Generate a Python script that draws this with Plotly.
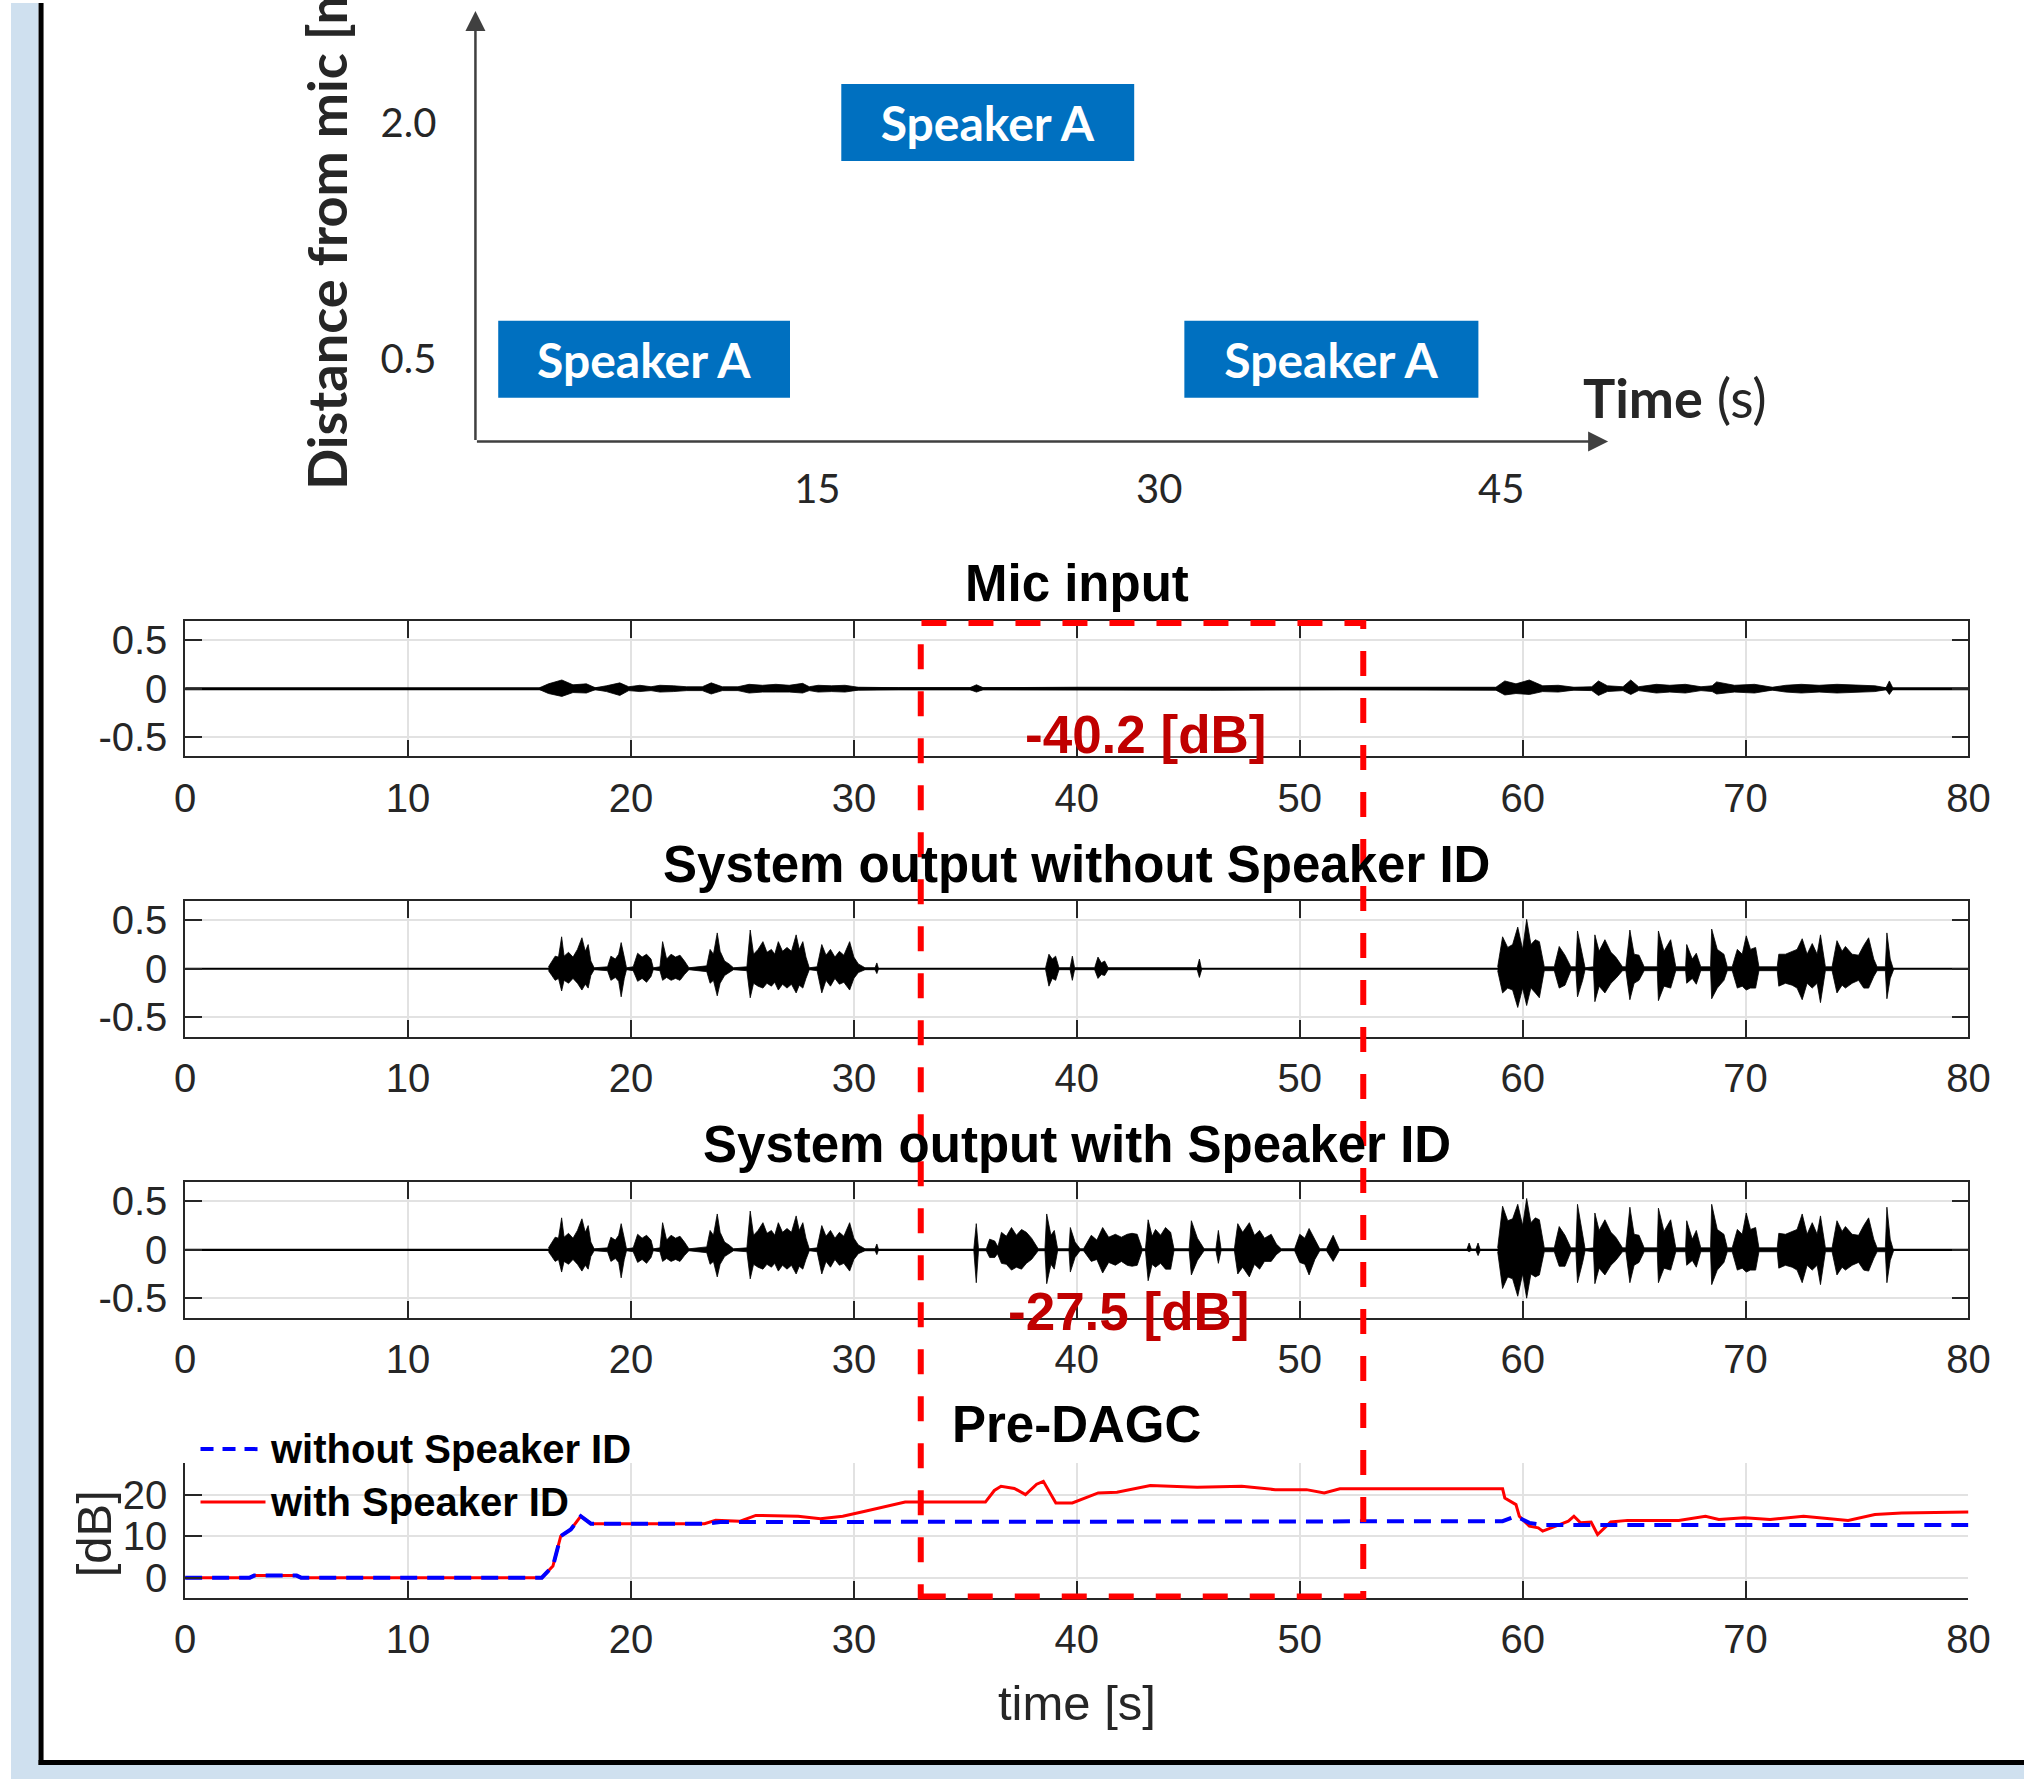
import plotly.graph_objects as go

# ---------------- data ----------------
# top diagram: speaker position vs time
box_start = [1.0, 16.05, 31.1]
box_end = [13.8, 28.9, 44.0]
box_dist = [0.5, 2.0, 0.5]
box_labels = ["Speaker A", "Speaker A", "Speaker A"]
top_xticks = [15, 30, 45]
top_xticktext = ["15", "30", "45"]
top_yticks = [0.5, 2.0]
top_yticktext = ["0.5", "2.0"]

# time axis of the lower panels
time_ticks = [0, 10, 20, 30, 40, 50, 60, 70, 80]
amp_ticks = [-0.5, 0, 0.5]
amp_ticktext = ["-0.5", "0", "0.5"]
db_ticks = [0, 10, 20]

# Mic input envelope (upper / lower magnitude)
mic_t = [15.9, 16.3, 16.9, 17.4, 18.0, 18.4, 18.9, 19.5, 19.9, 20.4, 20.9, 21.3, 21.9, 22.5, 23.2, 23.6,
         24.1, 24.8, 25.3, 25.9, 26.5, 27.1, 27.7, 28.0, 28.4, 29.0, 29.6, 30.2, 32.0, 35.2, 35.5, 35.8,
         40.0, 46.0, 52.0, 58.8, 59.2, 59.7, 60.3, 60.9, 61.6, 62.3, 63.1, 63.4, 63.8, 64.5, 64.85, 65.2,
         66.0, 66.6, 67.3, 68.0, 68.5, 68.7, 69.5, 70.4, 71.2, 71.8, 72.5, 73.3, 74.1, 74.9, 75.8, 76.3,
         76.45, 76.6]
mic_up = [0.01, 0.05, 0.09, 0.04, 0.05, 0.01, 0.03, 0.06, 0.02, 0.035, 0.02, 0.035, 0.03, 0.02, 0.02, 0.06,
          0.02, 0.02, 0.045, 0.035, 0.045, 0.035, 0.055, 0.02, 0.035, 0.03, 0.035, 0.015, 0.01, 0.01, 0.04, 0.01,
          0.015, 0.015, 0.01, 0.015, 0.08, 0.05, 0.09, 0.03, 0.035, 0.015, 0.02, 0.08, 0.03, 0.02, 0.09, 0.02,
          0.045, 0.035, 0.045, 0.02, 0.03, 0.07, 0.035, 0.045, 0.015, 0.035, 0.045, 0.035, 0.045, 0.035, 0.03,
          0.01, 0.08, 0.01]
mic_dn = [0.01, 0.05, 0.08, 0.04, 0.045, 0.01, 0.03, 0.07, 0.02, 0.03, 0.02, 0.035, 0.03, 0.02, 0.02, 0.055,
          0.02, 0.02, 0.045, 0.035, 0.035, 0.035, 0.045, 0.02, 0.035, 0.03, 0.035, 0.015, 0.01, 0.01, 0.035, 0.01,
          0.015, 0.015, 0.01, 0.015, 0.065, 0.05, 0.06, 0.03, 0.035, 0.015, 0.02, 0.07, 0.03, 0.02, 0.06, 0.02,
          0.045, 0.035, 0.045, 0.02, 0.03, 0.055, 0.035, 0.045, 0.015, 0.035, 0.045, 0.035, 0.045, 0.035, 0.03,
          0.01, 0.06, 0.01]

# first talk segment (same in both system outputs)
early_t = [16.30, 16.45, 16.60, 16.75, 16.89, 17.00, 17.20, 17.40, 17.60, 17.80, 17.95, 18.08, 18.20, 18.35,
           18.95, 19.10, 19.30, 19.45, 19.56, 19.70, 19.80,
           20.10, 20.30, 20.50, 20.70, 20.90, 21.00,
           21.30, 21.42, 21.60, 21.80, 22.00, 22.20, 22.40, 22.60,
           23.40, 23.55, 23.70, 23.87, 24.00, 24.20, 24.40, 24.60,
           25.20, 25.35, 25.50, 25.70, 25.92, 26.10, 26.30, 26.45, 26.61, 26.80, 27.00, 27.20, 27.41, 27.55,
           27.71, 27.85, 28.00,
           28.35, 28.56, 28.75, 28.95, 29.15, 29.35, 29.55, 29.81, 30.00, 30.20, 30.50,
           30.95, 31.03, 31.10]
early_up = [0.02, 0.08, 0.13, 0.12, 0.33, 0.13, 0.17, 0.12, 0.20, 0.32, 0.18, 0.25, 0.08, 0.01,
            0.02, 0.13, 0.10, 0.15, 0.27, 0.12, 0.01,
            0.02, 0.16, 0.12, 0.15, 0.10, 0.01,
            0.02, 0.28, 0.10, 0.15, 0.12, 0.14, 0.08, 0.01,
            0.03, 0.20, 0.15, 0.37, 0.18, 0.08, 0.05, 0.01,
            0.02, 0.40, 0.15, 0.20, 0.28, 0.17, 0.20, 0.15, 0.28, 0.18, 0.22, 0.18, 0.35, 0.20,
            0.28, 0.12, 0.01,
            0.02, 0.25, 0.14, 0.20, 0.12, 0.18, 0.14, 0.28, 0.12, 0.05, 0.01,
            0.01, 0.06, 0.005]
early_dn = [0.02, 0.07, 0.12, 0.10, 0.23, 0.12, 0.15, 0.10, 0.15, 0.22, 0.16, 0.20, 0.07, 0.01,
            0.02, 0.12, 0.09, 0.13, 0.29, 0.10, 0.01,
            0.02, 0.13, 0.10, 0.14, 0.08, 0.01,
            0.02, 0.12, 0.09, 0.12, 0.10, 0.12, 0.06, 0.01,
            0.03, 0.15, 0.12, 0.28, 0.15, 0.07, 0.04, 0.01,
            0.02, 0.30, 0.15, 0.18, 0.20, 0.15, 0.18, 0.14, 0.22, 0.16, 0.20, 0.16, 0.25, 0.17,
            0.20, 0.10, 0.01,
            0.02, 0.25, 0.12, 0.18, 0.10, 0.16, 0.14, 0.22, 0.10, 0.04, 0.01,
            0.01, 0.05, 0.005]

# system output without speaker ID, middle (far) segment
nosid_mid_t = [38.60, 38.75, 38.90, 39.05, 39.20, 39.70, 39.80, 39.90, 40.80, 40.95, 41.10, 41.25, 41.40,
               45.40, 45.50, 45.60]
nosid_mid_up = [0.01, 0.15, 0.10, 0.13, 0.01, 0.01, 0.13, 0.01, 0.01, 0.12, 0.06, 0.08, 0.01, 0.01, 0.10, 0.01]
nosid_mid_dn = [0.01, 0.18, 0.10, 0.12, 0.01, 0.01, 0.12, 0.01, 0.01, 0.10, 0.06, 0.07, 0.01, 0.01, 0.09, 0.01]

# last talk segment timings
late_t = [58.88, 59.10, 59.33, 59.55, 59.78, 60.00, 60.18, 60.37, 60.57, 60.75, 60.97,
          61.42, 61.64, 61.90, 62.16,
          62.39, 62.46, 62.69, 62.80,
          63.18, 63.24, 63.43, 63.69, 63.96, 64.18, 64.48,
          64.63, 64.81, 65.00, 65.22, 65.45,
          66.04, 66.09, 66.34, 66.64, 66.87,
          67.31, 67.36, 67.61, 67.79, 67.99,
          68.43, 68.48, 68.73, 69.03, 69.18,
          69.40, 69.63, 69.85, 70.03, 70.22, 70.45, 70.60,
          71.42, 71.49, 71.79, 72.09, 72.31, 72.54, 72.76, 72.99, 73.21, 73.36, 73.58,
          73.88, 74.10, 74.33, 74.48, 74.78, 75.07, 75.30, 75.52, 75.75, 75.90,
          76.27, 76.34, 76.49, 76.64]
nosid_late_up = [0.02, 0.33, 0.22, 0.25, 0.43, 0.20, 0.51, 0.25, 0.30, 0.28, 0.02,
                 0.02, 0.23, 0.14, 0.02,
                 0.02, 0.39, 0.15, 0.01,
                 0.02, 0.35, 0.18, 0.30, 0.17, 0.12, 0.02,
                 0.02, 0.40, 0.15, 0.14, 0.02,
                 0.02, 0.39, 0.18, 0.30, 0.02,
                 0.02, 0.25, 0.10, 0.16, 0.02,
                 0.02, 0.41, 0.20, 0.15, 0.02,
                 0.02, 0.20, 0.15, 0.34, 0.20, 0.22, 0.02,
                 0.02, 0.15, 0.15, 0.18, 0.20, 0.31, 0.15, 0.26, 0.15, 0.35, 0.02,
                 0.02, 0.29, 0.18, 0.23, 0.15, 0.14, 0.24, 0.32, 0.10, 0.02,
                 0.02, 0.37, 0.10, 0.01]
nosid_late_dn = [0.02, 0.25, 0.20, 0.22, 0.40, 0.20, 0.38, 0.20, 0.25, 0.30, 0.02,
                 0.02, 0.20, 0.17, 0.02,
                 0.02, 0.29, 0.12, 0.01,
                 0.02, 0.34, 0.18, 0.25, 0.15, 0.10, 0.02,
                 0.02, 0.32, 0.15, 0.12, 0.02,
                 0.02, 0.33, 0.18, 0.20, 0.02,
                 0.02, 0.15, 0.10, 0.16, 0.02,
                 0.02, 0.31, 0.20, 0.12, 0.02,
                 0.02, 0.20, 0.18, 0.22, 0.20, 0.20, 0.02,
                 0.02, 0.18, 0.15, 0.17, 0.20, 0.32, 0.15, 0.20, 0.15, 0.35, 0.02,
                 0.02, 0.25, 0.17, 0.20, 0.15, 0.12, 0.20, 0.20, 0.08, 0.02,
                 0.02, 0.31, 0.10, 0.01]

# system output with speaker ID, middle (far) segment
sid_mid_t = [35.38, 35.49, 35.59,
             35.94, 36.09, 36.32, 36.44,
             36.47, 36.62, 36.84, 37.07, 37.29, 37.52, 37.74, 37.97, 38.27,
             38.57, 38.65, 38.84, 38.99, 39.14,
             39.65, 39.71, 39.92, 40.15,
             40.30, 40.65, 40.90, 41.16, 41.43, 41.73, 42.00, 42.26, 42.48, 42.71, 42.93,
             43.08, 43.20, 43.38, 43.53, 43.76, 43.98, 44.21, 44.36,
             45.04, 45.14, 45.41, 45.71,
             46.24, 46.35, 46.47,
             47.07, 47.22, 47.44, 47.74, 47.97, 48.20, 48.42, 48.72, 48.95, 49.17,
             49.77, 50.00, 50.23, 50.42, 50.68, 50.90,
             51.20, 51.50, 51.77]
sid_mid_up = [0.01, 0.27, 0.01,
              0.01, 0.11, 0.09, 0.04,
              0.04, 0.18, 0.14, 0.23, 0.15, 0.21, 0.18, 0.12, 0.01,
              0.01, 0.37, 0.15, 0.20, 0.01,
              0.01, 0.23, 0.08, 0.01,
              0.01, 0.15, 0.10, 0.23, 0.13, 0.16, 0.13, 0.16, 0.17, 0.16, 0.01,
              0.01, 0.31, 0.14, 0.21, 0.15, 0.23, 0.18, 0.01,
              0.01, 0.30, 0.12, 0.01,
              0.01, 0.20, 0.01,
              0.01, 0.27, 0.18, 0.28, 0.15, 0.20, 0.12, 0.16, 0.06, 0.01,
              0.01, 0.16, 0.12, 0.22, 0.10, 0.01,
              0.01, 0.15, 0.01]
sid_mid_dn = [0.01, 0.34, 0.01,
              0.01, 0.08, 0.08, 0.04,
              0.04, 0.14, 0.15, 0.21, 0.18, 0.20, 0.14, 0.10, 0.01,
              0.01, 0.35, 0.15, 0.20, 0.01,
              0.01, 0.23, 0.08, 0.01,
              0.01, 0.12, 0.10, 0.24, 0.13, 0.16, 0.12, 0.16, 0.17, 0.16, 0.01,
              0.01, 0.32, 0.15, 0.18, 0.14, 0.20, 0.20, 0.01,
              0.01, 0.26, 0.11, 0.01,
              0.01, 0.14, 0.01,
              0.01, 0.25, 0.18, 0.28, 0.15, 0.20, 0.12, 0.12, 0.05, 0.01,
              0.01, 0.13, 0.15, 0.26, 0.10, 0.01,
              0.01, 0.12, 0.01]
sid_blip_t = [57.50, 57.60, 57.70, 57.90, 58.00, 58.10]
sid_blip_up = [0.005, 0.07, 0.005, 0.005, 0.07, 0.005]
sid_blip_dn = [0.005, 0.02, 0.005, 0.005, 0.06, 0.005]
sid_late_up = [0.02, 0.45, 0.30, 0.32, 0.47, 0.25, 0.53, 0.28, 0.33, 0.31, 0.02,
               0.02, 0.24, 0.15, 0.02,
               0.02, 0.47, 0.16, 0.01,
               0.02, 0.38, 0.20, 0.31, 0.18, 0.13, 0.02,
               0.02, 0.44, 0.16, 0.15, 0.02,
               0.02, 0.43, 0.19, 0.31, 0.02,
               0.02, 0.30, 0.11, 0.20, 0.02,
               0.02, 0.47, 0.21, 0.16, 0.02,
               0.02, 0.21, 0.16, 0.38, 0.21, 0.23, 0.02,
               0.02, 0.17, 0.16, 0.19, 0.21, 0.37, 0.16, 0.28, 0.16, 0.35, 0.02,
               0.02, 0.30, 0.19, 0.24, 0.16, 0.15, 0.25, 0.33, 0.11, 0.02,
               0.02, 0.44, 0.11, 0.01]
sid_late_dn = [0.02, 0.40, 0.28, 0.30, 0.48, 0.25, 0.50, 0.25, 0.28, 0.26, 0.02,
               0.02, 0.17, 0.17, 0.02,
               0.02, 0.34, 0.13, 0.01,
               0.02, 0.35, 0.19, 0.26, 0.16, 0.11, 0.02,
               0.02, 0.34, 0.16, 0.13, 0.02,
               0.02, 0.34, 0.19, 0.21, 0.02,
               0.02, 0.16, 0.11, 0.18, 0.02,
               0.02, 0.36, 0.21, 0.13, 0.02,
               0.02, 0.21, 0.19, 0.23, 0.21, 0.21, 0.02,
               0.02, 0.19, 0.16, 0.18, 0.21, 0.34, 0.16, 0.21, 0.16, 0.36, 0.02,
               0.02, 0.26, 0.18, 0.21, 0.16, 0.13, 0.21, 0.22, 0.09, 0.02,
               0.02, 0.34, 0.11, 0.01]

# Pre-DAGC gain [dB]
sid_gain_t = [0, 2.9, 3.1, 5.0, 5.2, 16.0, 16.5, 16.85, 17.3, 17.75, 18.2, 23.3, 23.8, 24.9, 25.6, 27.5,
              28.5, 29.5, 30.5, 31.5, 32.3, 35.9, 36.3, 36.6, 37.2, 37.7, 38.2, 38.5, 39.06, 39.8, 40.96,
              41.8, 43.3, 45.4, 47.4, 48.9, 50.3, 51.1, 51.8, 59.1, 59.2, 59.7, 59.85, 60.3, 60.7, 60.9,
              61.5, 62.05, 62.3, 62.6, 63.07, 63.36, 63.95, 64.7, 67.0, 68.2, 68.8, 69.95, 71.1, 72.6,
              74.6, 75.8, 77.0, 80.0]
sid_gain_db = [0, 0, 0.5, 0.5, 0, 0, 2.8, 10, 11.6, 14.8, 13, 13, 13.8, 13.6, 15, 14.8,
               14.2, 14.8, 16, 17.2, 18.2, 18.2, 21, 22, 21.5, 20, 22.5, 23.2, 18, 18, 20.4,
               20.6, 22.2, 21.8, 22, 21.2, 21.2, 20.4, 21.4, 21.4, 19.2, 17.6, 14.8, 12.4, 12, 11.2,
               12.4, 13.6, 14.8, 13.2, 13.4, 10.4, 13.4, 13.8, 13.8, 14.8, 14.0, 14.4, 14.0, 14.8,
               13.8, 15.2, 15.6, 15.8]
nosid_gain_t = [0, 2.9, 3.1, 5.0, 5.2, 16.0, 16.5, 16.85, 17.3, 17.75, 18.2, 23.3, 24.0, 40.0, 59.1,
                59.7, 60.3, 60.9, 80.0]
nosid_gain_db = [0, 0, 0.5, 0.5, 0, 0, 2.8, 10, 11.6, 14.8, 13, 13, 13.4, 13.6, 13.6,
                 14.8, 13.2, 12.7, 12.7]

# highlighted region and level annotations
region_t = [33.0, 52.85]
level_texts = ["-40.2 [dB]", "-27.5 [dB]"]
level_t = [43.1, 42.3]

# ---------------- helpers ----------------
# the photographed page shows the figure ~10 px in and 0.984x narrower horizontally
SCALE_X, OFF_X, W, H = 0.98419, 10.6, 2050, 1782


def fx(px):
    return (px / SCALE_X - OFF_X) / W


def fy(py):
    return 1 - py / H


def envelope(t, up, dn):
    assert len(t) == len(up) == len(dn), (len(t), len(up), len(dn))
    xs = list(t) + list(reversed(t))
    ys = list(up) + [-v for v in reversed(dn)]
    return xs, ys


ARIAL = "Liberation Sans, Arial, sans-serif"
LATO = "Lato, 'Open Sans', sans-serif"
AX = "#262626"
GRID = "#E2E2E2"

fig = go.Figure()

# ---------------- waveform panels ----------------
panels = [
    (1, [(mic_t, mic_up, mic_dn)], 3.0),
    (2, [(early_t, early_up, early_dn), (nosid_mid_t, nosid_mid_up, nosid_mid_dn),
         (late_t, nosid_late_up, nosid_late_dn)], 2.2),
    (3, [(early_t, early_up, early_dn), (sid_mid_t, sid_mid_up, sid_mid_dn),
         (sid_blip_t, sid_blip_up, sid_blip_dn), (late_t, sid_late_up, sid_late_dn)], 2.2),
]
for idx, segs, bw in panels:
    xa = "x" if idx == 1 else f"x{idx}"
    ya = "y" if idx == 1 else f"y{idx}"
    fig.add_trace(go.Scatter(x=[0, 80], y=[0, 0], mode="lines", line=dict(color="black", width=bw),
                             xaxis=xa, yaxis=ya, showlegend=False, hoverinfo="skip"))
    for t, up, dn in segs:
        xs, ys = envelope(t, up, dn)
        fig.add_trace(go.Scatter(x=xs, y=ys, mode="lines", fill="toself", fillcolor="black",
                                 line=dict(color="black", width=0.8), xaxis=xa, yaxis=ya,
                                 showlegend=False, hoverinfo="skip"))

# ---------------- Pre-DAGC ----------------
fig.add_trace(go.Scatter(x=sid_gain_t, y=sid_gain_db, mode="lines", line=dict(color="#FF0000", width=3),
                         xaxis="x4", yaxis="y4", showlegend=False))
fig.add_trace(go.Scatter(x=nosid_gain_t, y=nosid_gain_db, mode="lines",
                         line=dict(color="#0000FF", width=4, dash="17px,10px"),
                         xaxis="x4", yaxis="y4", showlegend=False))

# ---------------- top diagram boxes ----------------
fig.add_trace(go.Bar(y=box_dist, x=[e - s for s, e in zip(box_start, box_end)], base=box_start,
                     orientation="h", width=0.487, marker=dict(color="#0070C0", line=dict(width=0)),
                     text=box_labels, textposition="inside", insidetextanchor="middle",
                     textfont=dict(family=LATO, size=48, color="white", weight="bold"),
                     textangle=0, constraintext="none", cliponaxis=False,
                     xaxis="x5", yaxis="y5", showlegend=False))

XD = [fx(184.6), fx(1968.5)]
tick_font = dict(family=ARIAL, size=40, color=AX)
layout = dict(width=W, height=H, autosize=False, margin=dict(l=0, r=0, t=0, b=0), paper_bgcolor="white",
              plot_bgcolor="rgba(0,0,0,0)", showlegend=False)

wave_dom = {1: (620, 756), 2: (901, 1037), 3: (1183, 1319)}
for idx, (top, bot) in wave_dom.items():
    xk = "xaxis" if idx == 1 else f"xaxis{idx}"
    yk = "yaxis" if idx == 1 else f"yaxis{idx}"
    ya = "y" if idx == 1 else f"y{idx}"
    xa = "x" if idx == 1 else f"x{idx}"
    layout[xk] = dict(domain=XD, range=[0, 80], anchor=ya, tickvals=time_ticks,
                      ticktext=[str(v) for v in time_ticks], ticks="inside", ticklen=17, tickwidth=1.5,
                      tickcolor=AX, showline=True, linecolor=AX, linewidth=1.5, mirror="ticks",
                      showgrid=True, gridcolor=GRID, gridwidth=1.5, zeroline=False, tickfont=tick_font,
                      ticklabelstandoff=6)
    layout[yk] = dict(domain=[fy(bot), fy(top)], range=[-0.7, 0.7], anchor=xa, tickvals=amp_ticks,
                      ticktext=amp_ticktext, ticks="inside", ticklen=17, tickwidth=1.5, tickcolor=AX,
                      showline=True, linecolor=AX, linewidth=1.5, mirror="ticks", showgrid=True,
                      gridcolor=GRID, gridwidth=1.5, zeroline=False, tickfont=tick_font,
                      ticklabelstandoff=8)

layout["xaxis4"] = dict(domain=XD, range=[0, 80], anchor="y4", tickvals=time_ticks,
                        ticktext=[str(v) for v in time_ticks], ticks="inside", ticklen=17, tickwidth=1.5,
                        tickcolor=AX, showline=True, linecolor=AX, linewidth=1.5, mirror=False,
                        showgrid=True, gridcolor=GRID, gridwidth=1.5, zeroline=False, tickfont=tick_font,
                        ticklabelstandoff=6)
layout["yaxis4"] = dict(domain=[fy(1600), fy(1465)], range=[-4.8, 27.6], anchor="x4", tickvals=db_ticks,
                        ticktext=[str(v) for v in db_ticks], ticks="inside", ticklen=17, tickwidth=1.5,
                        tickcolor=AX, showline=True, linecolor=AX, linewidth=1.5, mirror=False,
                        showgrid=True, gridcolor=GRID, gridwidth=1.5, zeroline=False, tickfont=tick_font,
                        ticklabelstandoff=8)

top_font = dict(family=LATO, size=40, color="#262626")
layout["xaxis5"] = dict(domain=[fx(475), fx(1608)], range=[0, 49.69], anchor="y5", tickvals=top_xticks,
                        ticktext=top_xticktext, ticks="", showline=False, showgrid=False, zeroline=False,
                        tickfont=top_font, ticklabelstandoff=20)
layout["yaxis5"] = dict(domain=[fy(440), fy(8)], range=[-0.021, 2.707], anchor="x5", tickvals=top_yticks,
                        ticktext=top_yticktext, ticks="", showline=False, showgrid=False, zeroline=False,
                        tickfont=top_font, ticklabelstandoff=38)
fig.update_layout(**layout)

# ---------------- annotations ----------------
ann = []
title_font = dict(family=ARIAL, size=51, color="black", weight="bold")
for text, py in [("Mic input", 582), ("System output without Speaker ID", 864),
                 ("System output with Speaker ID", 1145), ("Pre-DAGC", 1426)]:
    ann.append(dict(text=text, x=fx(1076.5), y=fy(py), xref="paper", yref="paper", showarrow=False,
                    xanchor="center", yanchor="middle", font=title_font))
lvl_font = dict(family=ARIAL, size=53, color="#C00000", weight="bold")
ann.append(dict(text=level_texts[0], x=level_t[0], y=fy(734), xref="x", yref="paper", showarrow=False,
                xanchor="center", yanchor="middle", font=lvl_font))
ann.append(dict(text=level_texts[1], x=level_t[1], y=fy(1313), xref="x", yref="paper", showarrow=False,
                xanchor="center", yanchor="middle", font=lvl_font))
# legend text
leg_font = dict(family=ARIAL, size=40, color="black", weight="bold")
ann.append(dict(text="without Speaker ID", x=fx(268), y=fy(1451), xref="paper", yref="paper",
                showarrow=False, xanchor="left", yanchor="middle", font=leg_font))
ann.append(dict(text="with Speaker ID", x=fx(268), y=fy(1504), xref="paper", yref="paper",
                showarrow=False, xanchor="left", yanchor="middle", font=leg_font))
# axis labels
ann.append(dict(text="time [s]", x=fx(1076.5), y=fy(1706), xref="paper", yref="paper", showarrow=False,
                xanchor="center", yanchor="middle", font=dict(family=ARIAL, size=49, color=AX)))
ann.append(dict(text="[dB]", x=fx(93), y=fy(1536), xref="paper", yref="paper", showarrow=False,
                textangle=-90, xanchor="center", yanchor="middle", font=dict(family=ARIAL, size=49, color=AX)))
# top diagram labels and arrows
ann.append(dict(text="Distance from mic [m]", x=fx(326), y=fy(490), xref="paper", yref="paper",
                showarrow=False, textangle=-90, xanchor="center", yanchor="bottom",
                font=dict(family=LATO, size=54, color="#262626", weight="bold")))
ann.append(dict(text="<b>Time</b> (s)", x=fx(1581), y=fy(396), xref="paper", yref="paper",
                showarrow=False, xanchor="left", yanchor="middle",
                font=dict(family=LATO, size=54, color="#262626")))
ann.append(dict(text="", x=49.69, y=-0.021, ax=0, ay=-0.021, xref="x5", yref="y5", axref="x5", ayref="y5",
                showarrow=True, arrowhead=2, arrowsize=1.6, arrowwidth=2.5, arrowcolor="#404040"))
ann.append(dict(text="", x=0, y=2.707, ax=0, ay=-0.021, xref="x5", yref="y5", axref="x5", ayref="y5",
                showarrow=True, arrowhead=2, arrowsize=1.6, arrowwidth=2.5, arrowcolor="#404040"))
fig.update_layout(annotations=ann)

# ---------------- shapes ----------------
shapes = [
    # slide background pieces
    dict(type="rect", xref="paper", yref="paper", x0=0, x1=fx(38), y0=0, y1=1, fillcolor="#CFE0EF",
         line=dict(width=0), layer="below"),
    dict(type="rect", xref="paper", yref="paper", x0=0, x1=1, y0=0, y1=fy(1768), fillcolor="#CFE0EF",
         line=dict(width=0), layer="below"),
    dict(type="rect", xref="paper", yref="paper", x0=fx(38), x1=fx(43), y0=fy(1768), y1=1,
         fillcolor="black", line=dict(width=0)),
    dict(type="rect", xref="paper", yref="paper", x0=fx(38), x1=1, y0=fy(1768), y1=fy(1763),
         fillcolor="black", line=dict(width=0)),
    # legend samples
    dict(type="line", xref="paper", yref="paper", x0=fx(200), x1=fx(265), y0=fy(1451), y1=fy(1451),
         line=dict(color="#0000FF", width=4, dash="13px,9px")),
    dict(type="line", xref="paper", yref="paper", x0=fx(200), x1=fx(265), y0=fy(1504), y1=fy(1504),
         line=dict(color="#FF0000", width=3)),
    # highlighted region
    dict(type="rect", xref="x", yref="paper", x0=region_t[0], x1=region_t[1], y0=fy(1599), y1=fy(622),
         line=dict(color="#FF0000", width=6, dash="25px,22px"), fillcolor="rgba(0,0,0,0)"),
]
fig.update_layout(shapes=shapes)

fig.write_html("out.html", config={"displayModeBar": False, "responsive": False},
               post_script="document.body.style.margin='0';document.body.style.overflow='hidden';")
